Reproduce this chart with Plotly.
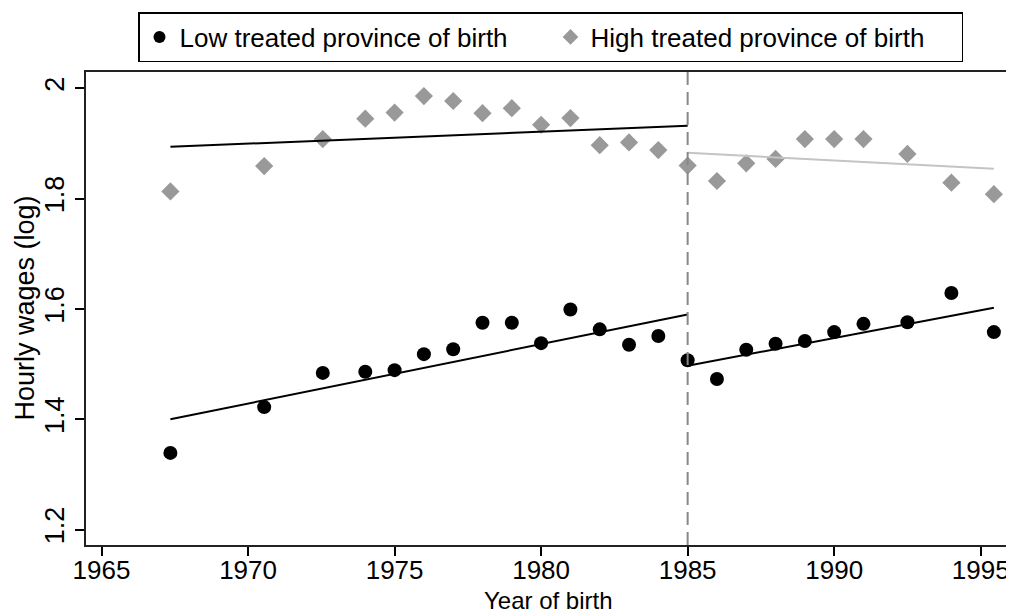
import plotly.graph_objects as go

# Data
low_years = [1967.35, 1970.55, 1972.55, 1974.0, 1975, 1976, 1977, 1978, 1979, 1980,
             1981, 1982, 1983, 1984, 1985, 1986, 1987, 1988, 1989, 1990, 1991,
             1992.5, 1994, 1995.45]
low_vals = [1.339, 1.422, 1.484, 1.486, 1.489, 1.518, 1.527, 1.575, 1.575, 1.538,
            1.599, 1.563, 1.535, 1.551, 1.507, 1.473, 1.526, 1.537, 1.542, 1.558,
            1.573, 1.576, 1.629, 1.558]

high_years = low_years
high_vals = [1.813, 1.859, 1.908, 1.945, 1.956, 1.986, 1.977, 1.955, 1.964, 1.934,
             1.946, 1.897, 1.902, 1.888, 1.860, 1.832, 1.864, 1.872, 1.908, 1.908,
             1.908, 1.881, 1.829, 1.808]

# fitted lines (endpoints)
low_pre_x, low_pre_y = [1967.35, 1985], [1.400, 1.590]
low_post_x, low_post_y = [1985, 1995.45], [1.497, 1.602]
high_pre_x, high_pre_y = [1967.35, 1985], [1.894, 1.932]
high_post_x, high_post_y = [1985, 1995.45], [1.883, 1.854]

cutoff_year = 1985
x_ticks = [1965, 1970, 1975, 1980, 1985, 1990, 1995]
y_ticks = [1.2, 1.4, 1.6, 1.8, 2.0]
y_tick_text = ["1.2", "1.4", "1.6", "1.8", "2"]

FONT = "Liberation Sans, Arial, sans-serif"
GRAY = "#999999"

# page has an 8px body margin: the figure is sized/placed to compensate
OFF = 8
W, H = 1014 - OFF, 614 - OFF
L = 86 - OFF
T = 72 - OFF
R = W - (1010 - OFF)
B = H - (545 - OFF)
PW, PH = W - L - R, H - T - B

fig = go.Figure()

fig.add_trace(go.Scatter(x=low_years, y=low_vals, mode="markers",
                         marker=dict(symbol="circle", size=14, color="black"),
                         name="Low treated province of birth"))
fig.add_trace(go.Scatter(x=high_years, y=high_vals, mode="markers",
                         marker=dict(symbol="diamond", size=14, color=GRAY),
                         name="High treated province of birth"))

for xs, ys, col in [(low_pre_x, low_pre_y, "black"), (low_post_x, low_post_y, "black"),
                    (high_pre_x, high_pre_y, "black"), (high_post_x, high_post_y, "#c4c4c4")]:
    fig.add_trace(go.Scatter(x=xs, y=ys, mode="lines", line=dict(color=col, width=2),
                             showlegend=False, hoverinfo="skip"))

fig.add_vline(x=cutoff_year, line=dict(color="#888888", width=2, dash="13px,7px"))

# axis titles
fig.add_annotation(text="Year of birth", xref="paper", yref="paper",
                   x=0.5, y=-((600 - OFF) - (H - B)) / PH, xanchor="center", yanchor="middle",
                   showarrow=False, font=dict(size=24))
fig.add_annotation(text="Hourly wages (log)", xref="paper", yref="paper",
                   x=((24 - OFF) - L) / PW, y=0.5, xanchor="center", yanchor="middle",
                   textangle=-90, showarrow=False, font=dict(size=27))

fig.update_layout(
    width=W, height=H,
    margin=dict(l=L, r=R, t=T, b=B),
    paper_bgcolor="white", plot_bgcolor="white",
    font=dict(family=FONT, size=26, color="black"),
    legend=dict(orientation="h", xref="paper", yref="paper",
                x=((138 - OFF) - L) / PW, y=1 + (T - (12 - OFF)) / PH,
                xanchor="left", yanchor="top",
                bordercolor="black", borderwidth=1.5, bgcolor="white",
                font=dict(size=26), entrywidth=366, itemsizing="constant"),
    xaxis=dict(range=[1964.47, 1996.0], tickvals=x_ticks, ticks="outside", ticklen=9,
               tickwidth=1.5, tickcolor="black", showgrid=False, zeroline=False,
               showline=True, linecolor="#222222", linewidth=2, mirror=True,
               tickfont=dict(size=26), automargin=False, ticklabelstandoff=-8),
    yaxis=dict(range=[1.172, 2.0296], tickvals=y_ticks, ticktext=y_tick_text,
               ticks="outside", ticklen=9, tickwidth=1.5, tickcolor="black",
               tickangle=-90, showgrid=False, zeroline=False,
               showline=True, linecolor="#222222", linewidth=2, mirror=True,
               tickfont=dict(size=27), automargin=False),
)

fig.write_html("out.html")
